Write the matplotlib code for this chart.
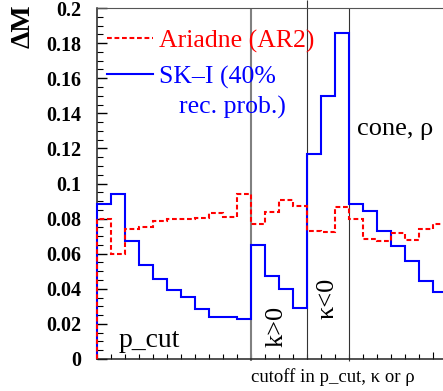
import numpy as np
import matplotlib
matplotlib.use('Agg')
import matplotlib.pyplot as plt
from matplotlib.lines import Line2D

plt.rcParams['font.family'] = ['Liberation Serif', 'DejaVu Serif']

# bin contents, one value per cutoff bin (p_cut | k>0 | k<0 | cone)
ariadne = [0.0799, 0.0597, 0.0743, 0.0750, 0.0786, 0.0796, 0.0798, 0.0805, 0.0830, 0.0811, 0.0940,
           0.0769, 0.0836, 0.0906, 0.0874,
           0.0727, 0.0722, 0.0865,
           0.0799, 0.0684, 0.0672, 0.0720, 0.0676, 0.0743, 0.0771]
ski = [0.0883, 0.0940, 0.0674, 0.0533, 0.0456, 0.0395, 0.0353, 0.0287, 0.0239, 0.0239, 0.0226,
       0.0648, 0.0475, 0.0399, 0.0292,
       0.1168, 0.1497, 0.1856,
       0.0883, 0.0845, 0.0727, 0.0646, 0.0557, 0.0446, 0.0382]
section_edges = [11, 15, 18]
y_ticks = [0, 0.02, 0.04, 0.06, 0.08, 0.1, 0.12, 0.14, 0.16, 0.18, 0.2]
y_tick_labels = ['0', '0.02', '0.04', '0.06', '0.08', '0.1', '0.12', '0.14', '0.16', '0.18', '0.2']

W, H = 443, 391
fig = plt.figure(figsize=(W / 100, H / 100), dpi=100)
ax = fig.add_axes([97 / W, 32 / H, 349.5 / W, 351 / H])

edges = np.arange(len(ski) + 1)
ax.stairs(ski, edges, baseline=0, color='#0000ff', lw=1.5, zorder=3, clip_on=False)
ax.stairs(ariadne, edges, baseline=0, color='#ff0000', lw=1.5,
          linestyle=(0, (2.3, 1.3)), zorder=4, clip_on=False)

# separators between the cutoff types
ax.vlines(section_edges[0], -0.0012, 0.2, color='#808080', lw=1.5, clip_on=False, zorder=2)
ax.vlines(section_edges[1], 0, 0.2045, color='#333333', lw=0.8, clip_on=False, zorder=2)
ax.vlines(section_edges[2], -0.0012, 0.2, color='#333333', lw=0.8, clip_on=False, zorder=2)

ax.set_xlim(0, 25)
ax.set_ylim(0, 0.2)
ax.set_yticks(y_ticks)
ax.set_yticklabels(y_tick_labels)
ax.set_yticks(np.arange(0, 0.2001, 0.005), minor=True)
ax.set_xticks([24])
ax.set_xticklabels([])
ax.set_xticks(edges, minor=True)
ax.tick_params(axis='both', which='both', direction='in')
ax.tick_params(axis='y', which='major', length=7, width=1, labelsize=14.5, pad=11)
ax.tick_params(axis='y', which='minor', length=4, width=0.8)
ax.tick_params(axis='x', which='major', length=5, width=0.8)
ax.tick_params(axis='x', which='minor', length=3.5, width=0.8)
plt.setp(ax.get_yticklabels(), fontweight='bold')

ax.spines['right'].set_visible(False)
ax.spines['top'].set_color('#555555')
ax.spines['top'].set_linewidth(0.8)
for s in ['left', 'bottom']:
    ax.spines[s].set_linewidth(1.1)
    ax.spines[s].set_color('#222222')

ax.text(1.57, 0.007, 'p_cut', fontsize=20, va='baseline', ha='left')
ax.text(18.58, 0.1276, 'cone, ρ', fontsize=19, va='baseline', ha='left')
ax.text(12.84, 0.0185, 'k>0', fontsize=19, rotation=90, ha='center', va='center')
ax.text(16.52, 0.0348, 'κ<0', fontsize=19, rotation=90, ha='center', va='center')

fig.text(250.7 / W, 1 - 382 / H, 'cutoff in p_cut, κ or ρ', fontsize=13.5,
         va='baseline', ha='left')
fig.text(23 / W, 1 - 26.5 / H, 'ΔM', fontsize=20, fontweight='bold', rotation=90,
         ha='center', va='center')

# legend drawn by hand
fig.add_artist(Line2D([107 / W, 153 / W], [1 - 37.7 / H] * 2, transform=fig.transFigure,
                      color='#ff0000', lw=1.5, linestyle=(0, (2.3, 1.3))))
fig.add_artist(Line2D([107 / W, 153 / W], [1 - 73.7 / H] * 2, transform=fig.transFigure,
                      color='#0000ff', lw=1.5))
fig.text(159 / W, 1 - 47.3 / H, 'Ariadne (AR2)', color='#ff0000', fontsize=18.5, va='baseline')
fig.text(159 / W, 1 - 84 / H, 'SK–I (40%', color='#0000ff', fontsize=18.5, va='baseline')
fig.text(179 / W, 1 - 113.7 / H, 'rec. prob.)', color='#0000ff', fontsize=18.5, va='baseline')

fig.savefig('out.png', dpi=100)
